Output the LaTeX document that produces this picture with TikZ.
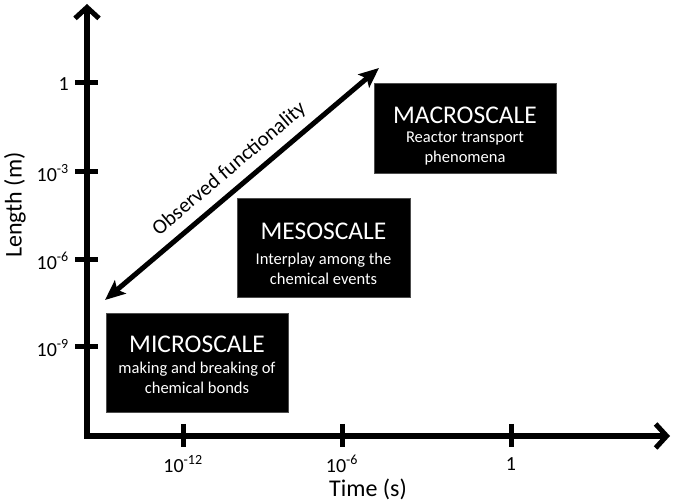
\documentclass[tikz,border=0pt]{standalone}
\usepackage{fontspec}
\setmainfont{Carlito}
\usetikzlibrary{arrows.meta}
\begin{document}
\begin{tikzpicture}[x=1pt,y=-1pt,
  axis/.style={line width=5.5pt,-{Straight Barb[length=11pt,width=24pt,line width=5pt]}},
  tick/.style={line width=5pt},
  ticklbl/.style={font=\fontsize{20}{22}\selectfont,inner sep=0pt},
  axlbl/.style={font=\fontsize{24}{26}\selectfont,inner sep=0pt},
  scalebox/.style={fill=black,draw=black!70,line width=0.6pt,inner sep=0pt},
  scaletitle/.style={text=white,font=\fontsize{25.5}{27}\selectfont,inner sep=0pt},
  scalesub/.style={text=white,font=\fontsize{16.5}{20}\selectfont,align=center,inner sep=0pt},
  diag/.style={line width=5pt,{Stealth[length=20pt,width=17pt,inset=4pt]}-{Stealth[length=20pt,width=17pt,inset=4pt]}}]
\useasboundingbox (0,0) rectangle (673,502);
% axes
\coordinate (O) at (87,436);
\coordinate (ytop) at (87,4);
\coordinate (xend) at (670,436);
\draw[axis] ([yshift=2.75pt]O) -- (ytop);
\draw[axis] ([xshift=-2.75pt]O) -- (xend);
% y ticks
\foreach \y/\n/\t in {83/ya/1,172/yb/10\textsuperscript{-3},260/yc/10\textsuperscript{-6},347/yd/10\textsuperscript{-9}}{
  \coordinate (\n l) at (75,\y);
  \coordinate (\n r) at (98,\y);
  \draw[tick] (\n l) -- (\n r);
  \node[ticklbl,anchor=east] (\n t) at (69,\y+1) {\t};
}
% x ticks
\foreach \x/\n/\t in {183/xa/10\textsuperscript{-12},342/xb/10\textsuperscript{-6},511/xc/1}{
  \coordinate (\n u) at (\x,424);
  \coordinate (\n d) at (\x,447);
  \draw[tick] (\n u) -- (\n d);
  \node[ticklbl] (\n t) at (\x,464) {\t};
}
\node[axlbl,rotate=90] (ylab) at (15,205) {Length (m)};
\node[axlbl] (xlab) at (368,489) {Time (s)};
% boxes
\node[scalebox,minimum width=182pt,minimum height=99pt] (micro) at (197,362.5) {};
\node[scaletitle] (microt) at (197,344) {MICROSCALE};
\node[scalesub] (micros) at (197,378) {making and breaking of\\chemical bonds};
\node[scalebox,minimum width=173pt,minimum height=99pt] (meso) at (323.5,247.5) {};
\node[scaletitle] (mesot) at (323.5,231) {MESOSCALE};
\node[scalesub] (mesos) at (323.5,268.5) {Interplay among the\\chemical events};
\node[scalebox,minimum width=182pt,minimum height=90pt] (macro) at (465,128) {};
\node[scaletitle] (macrot) at (465,115) {MACROSCALE};
\node[scalesub] (macros) at (465,148.5) {Reactor transport\\phenomena};
% diagonal
\coordinate (dlow) at (105,300);
\coordinate (dup) at (379,68);
\draw[diag] (dlow) -- node[sloped,above=8pt,font=\fontsize{21}{23}\selectfont,inner sep=0pt] (obs) {Observed functionality} (dup);
\end{tikzpicture}
\end{document}
